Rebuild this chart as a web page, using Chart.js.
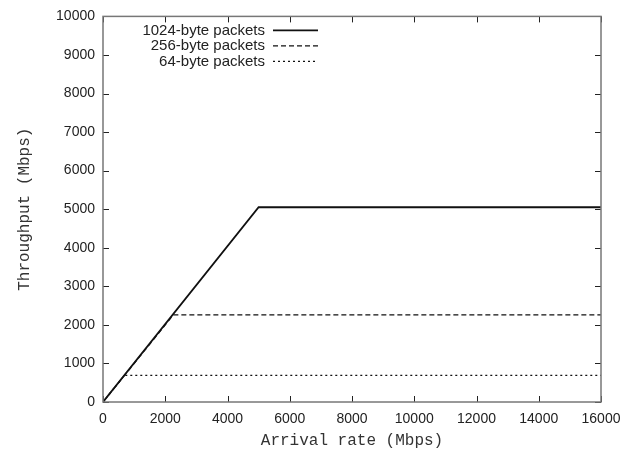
<!DOCTYPE html>
<html>
<head>
<meta charset="utf-8">
<script src="https://cdn.jsdelivr.net/npm/chart.js@4/dist/chart.umd.min.js"></script>
<style>
  html, body { margin: 0; padding: 0; background: #fff; }
  #wrap { width: 626px; height: 454px; }
</style>
</head>
<body>
<div id="wrap"><canvas id="chart"></canvas></div>
<script>
// values
const seriesLabels = ["1024-byte packets", "256-byte packets", "64-byte packets"];
const rate1024 = [0, 5000, 16000];
const thr1024 = [0, 5050, 5050];
const rate256 = [0, 2260, 16000];
const thr256 = [0, 2260, 2260];
const rate64 = [0, 690, 16000];
const thr64 = [0, 690, 690];

const xTicks = [0, 2000, 4000, 6000, 8000, 10000, 12000, 14000, 16000];
const yTicks = [0, 1000, 2000, 3000, 4000, 5000, 6000, 7000, 8000, 9000, 10000];

function toPoints(xs, ys) {
  return xs.map((x, i) => ({ x: x, y: ys[i] }));
}

// gnuplot-like frame with inward tick marks on all four sides
const framePlugin = {
  id: "frame",
  afterDraw(chart) {
    const { ctx, chartArea: a, scales } = chart;
    ctx.save();
    ctx.strokeStyle = "#222";
    ctx.lineWidth = 1;
    const len = 6;
    xTicks.forEach(v => {
      const px = Math.round(scales.x.getPixelForValue(v)) + 0.5;
      ctx.beginPath();
      ctx.moveTo(px, a.bottom); ctx.lineTo(px, a.bottom - len);
      ctx.moveTo(px, a.top); ctx.lineTo(px, a.top + len);
      ctx.stroke();
    });
    yTicks.forEach(v => {
      const py = Math.round(scales.y.getPixelForValue(v)) + 0.5;
      ctx.beginPath();
      ctx.moveTo(a.left, py); ctx.lineTo(a.left + len, py);
      ctx.moveTo(a.right, py); ctx.lineTo(a.right - len, py);
      ctx.stroke();
    });
    ctx.strokeStyle = "#777";
    ctx.lineWidth = 1.5;
    ctx.strokeRect(a.left, a.top, a.right - a.left, a.bottom - a.top);

    // legend: text right-aligned, line sample after it
    ctx.font = "15px 'Liberation Sans', Arial, sans-serif";
    ctx.fillStyle = "#222";
    ctx.textAlign = "right";
    ctx.textBaseline = "middle";
    chart.data.datasets.forEach((ds, i) => {
      const y = a.top + 14 + i * 15.5;
      ctx.fillText(ds.label, a.left + 162, y);
      ctx.beginPath();
      ctx.strokeStyle = "#111";
      ctx.lineWidth = ds.borderWidth;
      ctx.setLineDash(ds.borderDash || []);
      ctx.moveTo(a.left + 170, y);
      ctx.lineTo(a.left + 215, y);
      ctx.stroke();
    });
    ctx.restore();
  }
};

new Chart(document.getElementById("chart"), {
  type: "line",
  data: {
    datasets: [
      {
        label: seriesLabels[0],
        data: toPoints(rate1024, thr1024),
        borderColor: "#111",
        borderWidth: 1.8,
        pointRadius: 0,
        tension: 0,
        order: 0
      },
      {
        label: seriesLabels[1],
        data: toPoints(rate256, thr256),
        borderColor: "#111",
        borderWidth: 1.3,
        borderDash: [5, 3],
        pointRadius: 0,
        tension: 0,
        order: 1
      },
      {
        label: seriesLabels[2],
        data: toPoints(rate64, thr64),
        borderColor: "#111",
        borderWidth: 1.3,
        borderDash: [2, 3],
        pointRadius: 0,
        tension: 0,
        order: 2
      }
    ]
  },
  options: {
    responsive: true,
    maintainAspectRatio: false,
    animation: false,
    layout: { padding: { left: 0, right: 25, top: 15, bottom: 0 } },
    plugins: {
      legend: { display: false },
      tooltip: { enabled: false }
    },
    scales: {
      x: {
        type: "linear",
        min: 0,
        max: 16000,
        afterFit(scale) {
          scale.height = 52;
          scale.paddingLeft = 0;
          scale.paddingRight = 0;
        },
        afterBuildTicks(scale) { scale.ticks = xTicks.map(v => ({ value: v })); },
        grid: { display: false, drawTicks: false },
        border: { display: false },
        ticks: {
          color: "#222",
          padding: 9,
          maxRotation: 0,
          callback: v => String(v),
          font: { family: "'Liberation Sans', Arial, sans-serif", size: 14 }
        },
        title: {
          display: true,
          text: "Arrival rate (Mbps)",
          color: "#333",
          padding: { top: 0, bottom: 4 },
          font: { family: "'Liberation Mono', 'Courier New', monospace", size: 16 }
        }
      },
      y: {
        type: "linear",
        min: 0,
        max: 10000,
        afterFit(scale) { scale.width = 103; },
        afterBuildTicks(scale) { scale.ticks = yTicks.map(v => ({ value: v })); },
        grid: { display: false, drawTicks: false },
        border: { display: false },
        ticks: {
          color: "#222",
          padding: 8,
          callback: v => String(v),
          font: { family: "'Liberation Sans', Arial, sans-serif", size: 14 }
        },
        title: {
          display: true,
          text: "Throughput (Mbps)",
          color: "#333",
          padding: { top: 15, bottom: 0 },
          font: { family: "'Liberation Mono', 'Courier New', monospace", size: 16 }
        }
      }
    }
  },
  plugins: [framePlugin]
});
</script>
</body>
</html>
